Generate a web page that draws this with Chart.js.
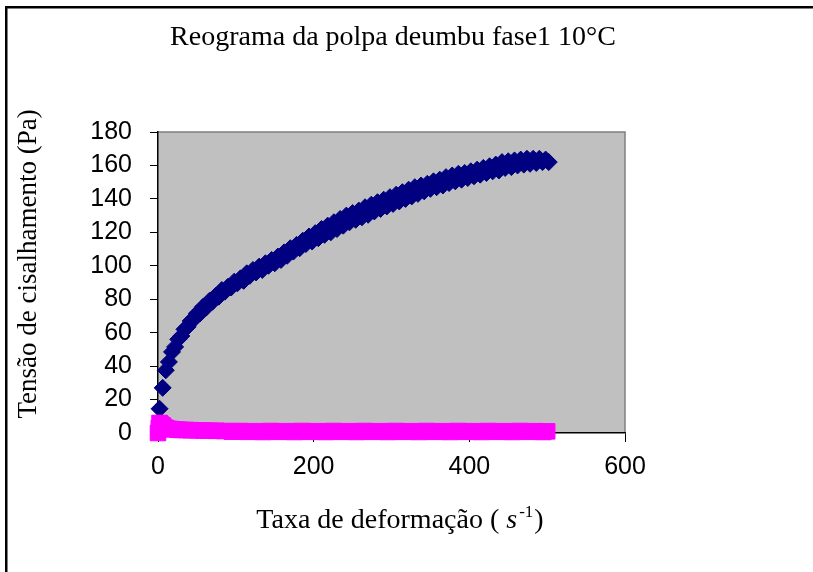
<!DOCTYPE html>
<html>
<head>
<meta charset="utf-8">
<script src="https://cdn.jsdelivr.net/npm/chart.js@4.4.0/dist/chart.umd.min.js"></script>
<style>
  html, body { margin: 0; padding: 0; background: #fff; }
  #grafico { display: block; }
</style>
</head>
<body>
<canvas id="grafico" width="813" height="572"></canvas>
<script>
// textos
const titulo = 'Reograma da polpa deumbu fase1 10°C';
const tituloY = 'Tensão de cisalhamento (Pa)';
const tituloX = ['Taxa de deformação ( ', 's', '-1', ')'];

// marcas dos eixos
const ticksX = [0, 200, 400, 600];
const ticksY = [0, 20, 40, 60, 80, 100, 120, 140, 160, 180];

// tensao de cisalhamento (Pa) x taxa de deformacao (1/s)
const taxaTensao = [2, 6, 10, 14, 18, 22, 26, 30, 34, 38, 42, 46, 50, 54, 58, 62, 66, 70, 74, 78,
  82, 86, 90, 94, 98, 102, 106, 110, 114, 118, 122, 126, 130, 134, 138, 142, 146, 150, 154, 158,
  162, 166, 170, 174, 178, 182, 186, 190, 194, 198, 202, 206, 210, 214, 218, 222, 226, 230, 234, 238,
  242, 246, 250, 254, 258, 262, 266, 270, 274, 278, 282, 286, 290, 294, 298, 302, 306, 310, 314, 318,
  322, 326, 330, 334, 338, 342, 346, 350, 354, 358, 362, 366, 370, 374, 378, 382, 386, 390, 394, 398,
  402, 406, 410, 414, 418, 422, 426, 430, 434, 438, 442, 446, 450, 454, 458, 462, 466, 470, 474, 478,
  482, 486, 490, 494, 498, 502];
const tensao = [14.5, 27, 37.5, 42.5, 48.5, 51.5, 56, 58, 62, 63.5, 67, 68, 71.5, 71.5, 75.5, 75, 79, 78.5, 82, 81.5,
  85.5, 84.5, 87.5, 87, 90.5, 89.5, 92.5, 91, 95.5, 94, 97.5, 96, 99.5, 97.5, 101.5, 100, 103.5, 101.5, 105.5, 103.5,
  108, 106, 110.5, 108.5, 112.5, 110.5, 115, 113, 117.5, 114.5, 119.5, 116.5, 122, 118.5, 124, 120, 126, 122, 128, 124,
  130, 126, 131.5, 127.5, 133, 129, 135, 130.5, 136.5, 132.5, 138, 134, 139.5, 135.5, 141, 137, 142.5, 138.5, 144, 140,
  145.5, 141.5, 147, 143, 148, 144.5, 149, 146, 150.5, 147, 151.5, 148, 153, 149.5, 154, 150.5, 155, 151.5, 155.5, 152.5,
  156.5, 153.5, 157.5, 154.5, 158.5, 155.5, 159.5, 156.5, 160.5, 157, 162, 158.5, 162.5, 159, 163, 160, 163.5, 160.5, 164, 161,
  164, 161.5, 164, 162, 163.5, 162];

// segunda serie (rosa), perto de zero
const taxaVisc = [0, 1, 2, 3, 4, 6, 8, 10, 13, 16, 20, 25, 30, 36, 42, 50, 58, 66, 75, 85,
  95, 105, 115, 125, 135, 145, 155, 165, 175, 185, 195, 205, 215, 225, 235, 245, 255, 265, 275, 285,
  295, 305, 315, 325, 335, 345, 355, 365, 375, 385, 395, 405, 415, 425, 435, 445, 455, 465, 475, 485,
  495, 500];
const viscosidade = [0, 3, 6, 5.5, 5, 4.5, 3.5, 3, 2.5, 2.4, 2.2, 2, 1.8, 1.8, 1.7, 1.6, 1.5, 1.4, 1.3, 1.2,
  0.8, 1.2, 0.7, 1.1, 0.6, 1.2, 0.7, 1.1, 0.6, 1.2, 0.7, 1.1, 0.6, 1.2, 0.7, 1.1, 0.6, 1.2, 0.7, 1.1,
  0.6, 1.2, 0.7, 1.1, 0.6, 1.2, 0.7, 1.1, 0.6, 1.2, 0.7, 1.1, 0.6, 1.2, 0.7, 1.1, 0.6, 1.2, 0.7, 1.1,
  0.6, 1.0];

const fonteSerif = '"Liberation Serif", "Times New Roman", serif';
Chart.defaults.font.family = '"Liberation Sans", Arial, sans-serif';
Chart.defaults.color = '#000';

// fundo branco, moldura, area cinza e os textos
const fundoPlugin = {
  id: 'fundo',
  beforeDraw(chart) {
    const ctx = chart.ctx;
    const a = chart.chartArea;
    ctx.save();
    ctx.fillStyle = '#fff';
    ctx.fillRect(0, 0, chart.width, chart.height);
    ctx.fillStyle = '#000';
    ctx.fillRect(5, 6, 2.5, chart.height - 6);
    ctx.fillRect(5, 6, chart.width - 5, 2.5);
    ctx.fillStyle = '#c0c0c0';
    ctx.fillRect(a.left, a.top, a.right - a.left, a.bottom - a.top);
    ctx.strokeStyle = '#808080';
    ctx.lineWidth = 1.5;
    ctx.beginPath();
    ctx.moveTo(a.left, a.top);
    ctx.lineTo(a.right, a.top);
    ctx.lineTo(a.right, a.bottom);
    ctx.stroke();
    ctx.restore();
  },
  afterDraw(chart) {
    const ctx = chart.ctx;
    ctx.save();
    ctx.fillStyle = '#000';
    ctx.textBaseline = 'middle';
    ctx.textAlign = 'center';
    ctx.font = '28px ' + fonteSerif;
    ctx.fillText(titulo, 393, 38);

    ctx.save();
    ctx.translate(29, 264);
    ctx.rotate(-Math.PI / 2);
    ctx.font = '27px ' + fonteSerif;
    ctx.fillText(tituloY, 0, 0);
    ctx.restore();

    // titulo do eixo x com expoente
    ctx.textAlign = 'left';
    ctx.textBaseline = 'alphabetic';
    const fN = '28px ' + fonteSerif, fI = 'italic 28px ' + fonteSerif, fS = '17px ' + fonteSerif;
    ctx.font = fN; const w0 = ctx.measureText(tituloX[0]).width;
    ctx.font = fI; const w1 = ctx.measureText(tituloX[1]).width;
    ctx.font = fS; const w2 = ctx.measureText(tituloX[2]).width;
    ctx.font = fN; const w3 = ctx.measureText(tituloX[3]).width;
    let x = 400 - (w0 + w1 + w2 + w3 + 3) / 2;
    const base = 528;
    ctx.font = fN; ctx.fillText(tituloX[0], x, base); x += w0;
    ctx.font = fI; ctx.fillText(tituloX[1], x, base); x += w1 + 2;
    ctx.font = fS; ctx.fillText(tituloX[2], x, base - 11); x += w2 + 1;
    ctx.font = fN; ctx.fillText(tituloX[3], x, base);
    ctx.restore();
  }
};

const ctx = document.getElementById('grafico').getContext('2d');

new Chart(ctx, {
  type: 'scatter',
  data: {
    datasets: [
      {
        label: 'rosa',
        data: taxaVisc.map((v, i) => ({ x: v, y: viscosidade[i] })),
        pointStyle: 'rect',
        pointRadius: 11,
        pointHoverRadius: 11,
        backgroundColor: '#ff00ff',
        borderColor: '#ff00ff',
        borderWidth: 1,
        clip: false
      },
      {
        label: 'tensao',
        data: taxaTensao.map((v, i) => ({ x: v, y: tensao[i] })),
        pointStyle: 'rectRot',
        pointRadius: 8.5,
        pointHoverRadius: 8.5,
        backgroundColor: '#000080',
        borderColor: '#000080',
        borderWidth: 1,
        clip: false
      }
    ]
  },
  options: {
    responsive: false,
    animation: false,
    events: [],
    layout: { padding: { left: 0, right: 188, top: 132, bottom: 0 } },
    plugins: {
      legend: { display: false },
      tooltip: { enabled: false },
      title: { display: false }
    },
    scales: {
      x: {
        type: 'linear',
        min: 0,
        max: 600,
        afterBuildTicks: s => { s.ticks = ticksX.map(v => ({ value: v })); },
        afterFit: s => { s.height = 139; },
        ticks: { font: { size: 25 }, padding: 10, maxRotation: 0 },
        grid: { drawOnChartArea: false, drawTicks: true, tickLength: 9, color: '#000' },
        border: { color: '#000', width: 1.5 }
      },
      y: {
        type: 'linear',
        min: 0,
        max: 180,
        afterBuildTicks: s => { s.ticks = ticksY.map(v => ({ value: v })); },
        afterFit: s => { s.width = 158; },
        ticks: { font: { size: 25 }, padding: 18 },
        grid: { drawOnChartArea: false, drawTicks: true, tickLength: 8, color: '#000' },
        border: { color: '#000', width: 1.5 }
      }
    }
  },
  plugins: [fundoPlugin]
});
</script>
</body>
</html>
